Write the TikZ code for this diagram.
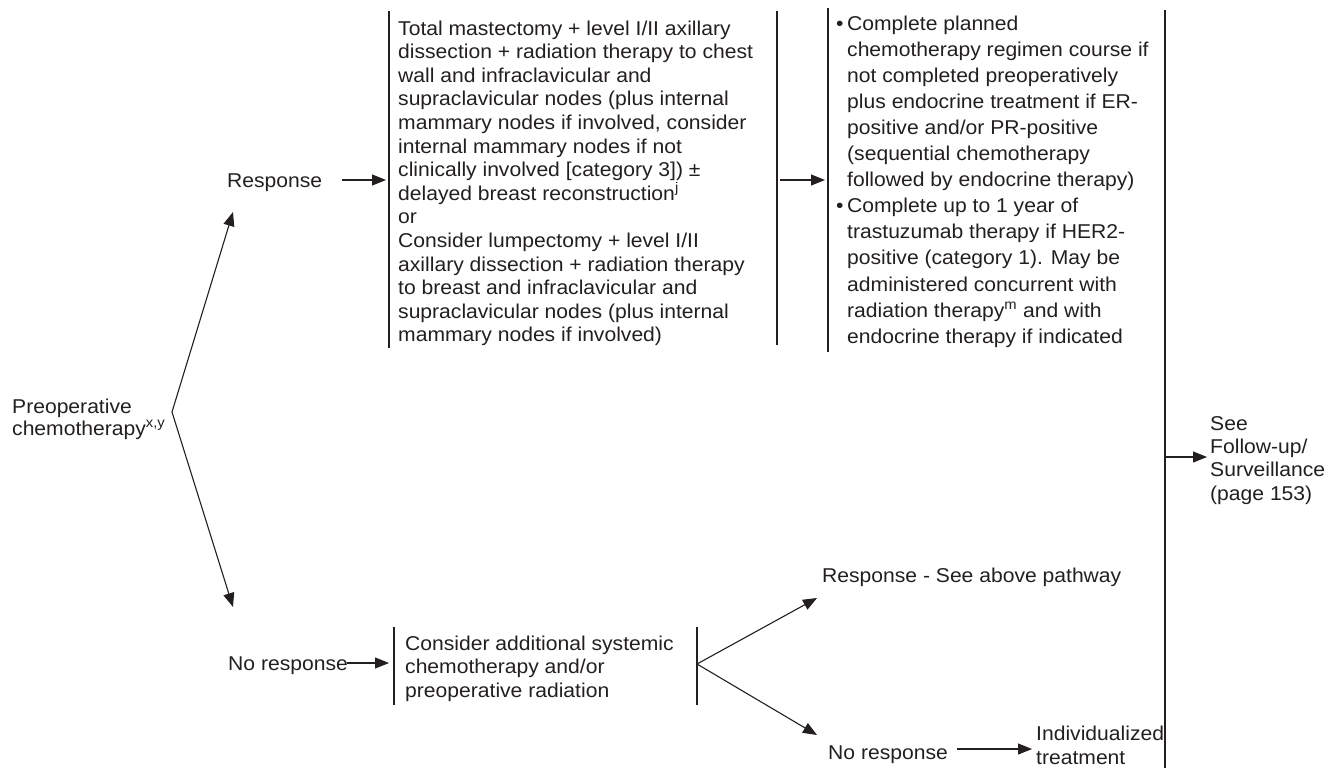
\documentclass[tikz,border=0pt]{standalone}
\usepackage{fontspec}
\setmainfont{Liberation Sans}[FakeStretch=1.055]
\usetikzlibrary{arrows.meta}
\definecolor{ink}{HTML}{231F20}
\newcommand\bulletmark{\makebox[11pt][l]{\textbullet}}
\newcommand\bulletgap{\hspace*{11pt}}
% text nodes are placed by the baseline of their last line
\tikzset{
  txt/.style={anchor=base west, inner sep=0pt, align=left, text=ink,
              font=\fontsize{20}{23.6}\selectfont},
  bar/.style={draw=ink, line width=1.3pt},
  arr/.style={draw=ink, line width=1.1pt, -{Triangle[length=14pt,width=11pt]}},
}
\begin{document}
\begin{tikzpicture}[x=1pt,y=-1pt]
\useasboundingbox (0,0) rectangle (1330,768);

% ---- text blocks ----
\node[txt, font=\fontsize{20}{22}\selectfont] (pre) at (12,435)
  {Preoperative\\chemotherapy\textsuperscript{x,y}};
\node[txt] (resp) at (227,187) {Response};
\node[txt] (surg) at (398,341.8)
  {Total mastectomy + level I/II axillary\\
   dissection + radiation therapy to chest\\
   wall and infraclavicular and\\
   supraclavicular nodes (plus internal\\
   mammary nodes if involved, consider\\
   internal mammary nodes if not\\
   clinically involved [category 3]) ±\\
   delayed breast reconstruction\textsuperscript{j}\\
   or\\
   Consider lumpectomy + level I/II\\
   axillary dissection + radiation therapy\\
   to breast and infraclavicular and\\
   supraclavicular nodes (plus internal\\
   mammary nodes if involved)};
\node[txt, font=\fontsize{20}{26.1}\selectfont] (adj) at (836,343.2)
  {\bulletmark Complete planned\\
   \bulletgap chemotherapy regimen course if\\
   \bulletgap not completed preoperatively\\
   \bulletgap plus endocrine treatment if ER-\\
   \bulletgap positive and/or PR-positive\\
   \bulletgap (sequential chemotherapy\\
   \bulletgap followed by endocrine therapy)\\
   \bulletmark Complete up to 1 year of\\
   \bulletgap trastuzumab therapy if HER2-\\
   \bulletgap positive (category 1). May be\\
   \bulletgap administered concurrent with\\
   \bulletgap radiation therapy\textsuperscript{m} and with\\
   \bulletgap endocrine therapy if indicated};
\node[txt] (noresp) at (228,670) {No response};
\node[txt, font=\fontsize{20}{23.5}\selectfont] (cons) at (405,697)
  {Consider additional systemic\\chemotherapy and/or\\preoperative radiation};
\node[txt] (resp2) at (822,582) {Response - See above pathway};
\node[txt] (noresp2) at (828,759) {No response};
\node[txt, font=\fontsize{20}{24}\selectfont] (indiv) at (1036,764)
  {Individualized\\treatment};
\node[txt, font=\fontsize{20}{23.3}\selectfont] (see) at (1210,500)
  {See\\Follow-up/\\Surveillance\\(page 153)};

% ---- vertical bars ----
\coordinate (b1t) at (389,11);  \coordinate (b1b) at (389,348);
\coordinate (b2t) at (777,11);  \coordinate (b2b) at (777,345);
\coordinate (b3t) at (828,8);   \coordinate (b3b) at (828,352);
\coordinate (b4t) at (1165,10); \coordinate (b4b) at (1165,768);
\coordinate (b5t) at (394,627); \coordinate (b5b) at (394,705);
\coordinate (b6t) at (697,627); \coordinate (b6b) at (697,705);
\draw[bar] (b1t) -- (b1b);
\draw[bar] (b2t) -- (b2b);
\draw[bar] (b3t) -- (b3b);
\draw[bar] (b4t) -- (b4b);
\draw[bar] (b5t) -- (b5b);
\draw[bar] (b6t) -- (b6b);

% ---- connectors ----
\coordinate (fork1) at (172,412);
\coordinate (upTip) at (233,212);
\coordinate (downTip) at (233,607);
\draw[arr] (fork1) -- (upTip);
\draw[arr] (fork1) -- (downTip);

\coordinate (r1s) at (342,180); \coordinate (r1e) at (386,180);
\draw[arr] (r1s) -- (r1e);
\coordinate (r2s) at (780,180); \coordinate (r2e) at (825,180);
\draw[arr] (r2s) -- (r2e);
\coordinate (n1s) at (347,663); \coordinate (n1e) at (389,663);
\draw[arr] (n1s) -- (n1e);

\coordinate (fork2) at (697,664);
\coordinate (upTip2) at (817,598);
\coordinate (downTip2) at (817,735);
\draw[arr] (fork2) -- (upTip2);
\draw[arr] (fork2) -- (downTip2);

\coordinate (n2s) at (957,749); \coordinate (n2e) at (1032,749);
\draw[arr] (n2s) -- (n2e);
\coordinate (fs) at (1165,457); \coordinate (fe) at (1207,457);
\draw[arr] (fs) -- (fe);
\end{tikzpicture}
\end{document}
